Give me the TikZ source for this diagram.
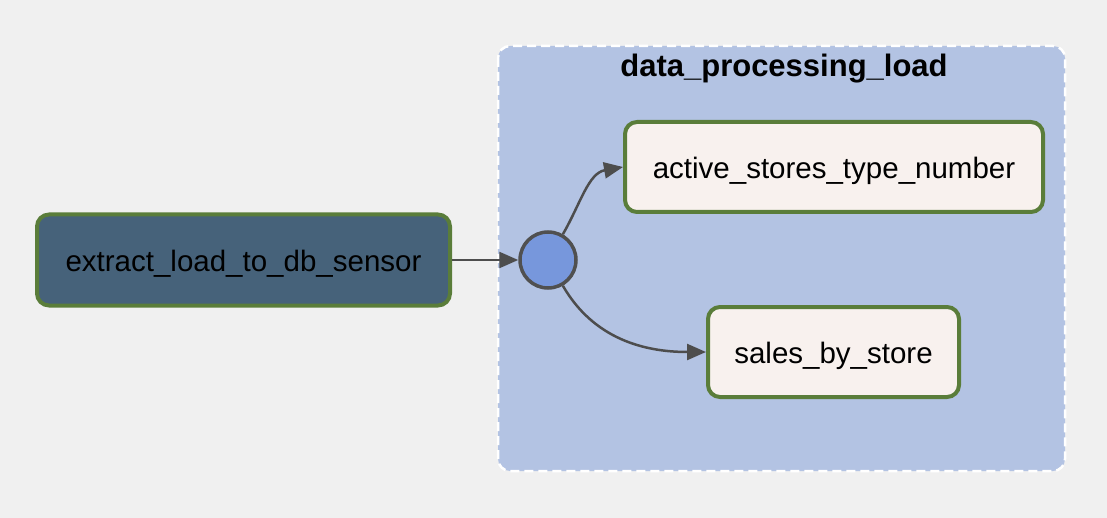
\documentclass[tikz,border=0pt]{standalone}
\usepackage{fontspec}
\setmainfont{Liberation Sans}
\usetikzlibrary{arrows.meta}
\definecolor{bgc}{HTML}{F0F0F0}
\definecolor{clusterc}{HTML}{B3C3E3}
\definecolor{darkc}{HTML}{46627A}
\definecolor{greenc}{HTML}{5A7D3A}
\definecolor{lightc}{HTML}{F8F1EE}
\definecolor{circc}{HTML}{7797DC}
\definecolor{circborder}{HTML}{505050}
\definecolor{edgec}{HTML}{4D4D4D}
\tikzset{
  taskbox/.style={draw=greenc, line width=4pt, rounded corners=12pt, inner sep=0pt,
    font=\fontsize{29.5}{34}\selectfont, text=black, text height=23pt, text depth=0pt},
  joinpt/.style={circle, draw=circborder, line width=3.5pt, fill=circc, minimum size=56pt, inner sep=0pt},
  edge/.style={draw=edgec, line width=2.5pt, -{Triangle[length=19pt,width=16pt]}},
  clusterbox/.style={fill=clusterc, draw=white, line width=2.5pt, dash pattern=on 9pt off 5pt, rounded corners=12pt},
}
\begin{document}
\begin{tikzpicture}[x=1pt,y=-1pt]
\fill[bgc] (0,0) rectangle (1107,518);
\useasboundingbox (0,0) rectangle (1107,518);
\draw[clusterbox] (498,46) rectangle (1065,471);
\node[font=\bfseries\fontsize{31}{36}\selectfont] (title) at (784,69) {data\_processing\_load};
\node[taskbox, fill=darkc, minimum width=413pt, minimum height=91pt] (src) at (243.5,260) {extract\_load\_to\_db\_sensor};
\node[joinpt] (join) at (548,260) {};
\node[taskbox, fill=lightc, minimum width=418pt, minimum height=90pt] (top) at (834,167) {active\_stores\_type\_number};
\node[taskbox, fill=lightc, minimum width=251pt, minimum height=90pt] (bot) at (833.5,352) {sales\_by\_store};
\draw[edge] (src.east) -- (join.west);
\draw[edge] (join.60) to[out=60,in=190] (top.west);
\draw[edge] (join.-60) to[out=-60,in=180] (bot.west);
\end{tikzpicture}
\end{document}
